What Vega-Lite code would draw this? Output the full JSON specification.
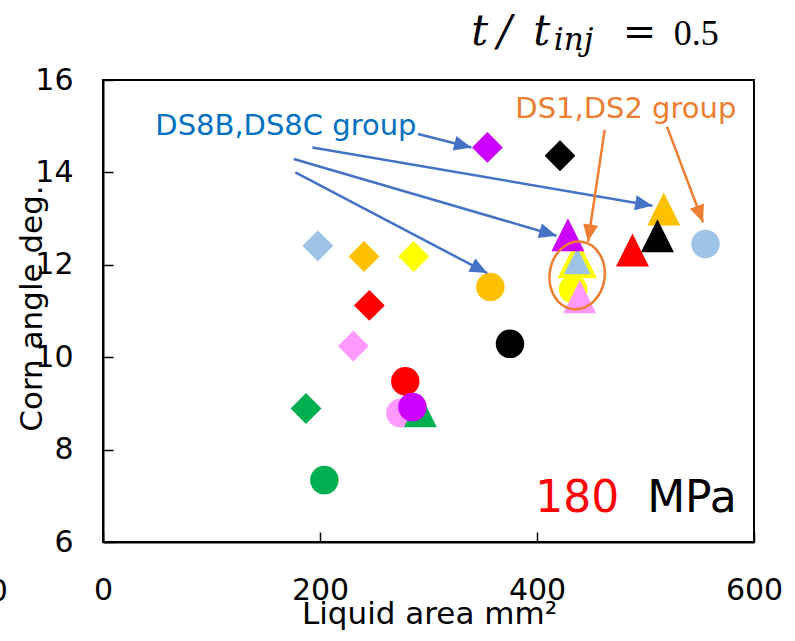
{
  "$schema": "https://vega.github.io/schema/vega-lite/v6.json",
  "width": 651,
  "height": 462,
  "autosize": "none",
  "padding": {"left": 103, "top": 80, "right": 41, "bottom": 99},
  "background": "white",
  "config": {
    "view": {"stroke": "black", "strokeWidth": 2},
    "font": "DejaVu Sans",
    "axis": {"labelFont": "DejaVu Sans", "titleFont": "DejaVu Sans", "grid": false, "domainColor": "black", "domainWidth": 2, "tickColor": "black", "tickWidth": 1.5, "labelColor": "black", "titleColor": "black", "titleFontWeight": "normal", "labelFlush": false, "labelOverlap": false}
  },
  "datasets": {
    "points": [
      {"x": 198.0, "y": 12.41, "series": "lightblue", "marker": "diamond"},
      {"x": 240.6, "y": 12.18, "series": "orange", "marker": "diamond"},
      {"x": 286.4, "y": 12.18, "series": "yellow", "marker": "diamond"},
      {"x": 245.5, "y": 11.12, "series": "red", "marker": "diamond"},
      {"x": 230.7, "y": 10.24, "series": "pink", "marker": "diamond"},
      {"x": 187.1, "y": 8.89, "series": "green", "marker": "diamond"},
      {"x": 354.3, "y": 14.54, "series": "purple", "marker": "diamond"},
      {"x": 421.2, "y": 14.36, "series": "black", "marker": "diamond"},
      {"x": 274.1, "y": 8.79, "series": "pink", "marker": "circle"},
      {"x": 278.6, "y": 9.48, "series": "red", "marker": "circle"},
      {"x": 292.5, "y": 8.84, "series": "green", "marker": "triangle"},
      {"x": 285.2, "y": 8.92, "series": "purple", "marker": "circle"},
      {"x": 204.0, "y": 7.34, "series": "green", "marker": "circle"},
      {"x": 357.0, "y": 11.52, "series": "orange", "marker": "circle"},
      {"x": 375.1, "y": 10.29, "series": "black", "marker": "circle"},
      {"x": 433.3, "y": 11.47, "series": "yellow", "marker": "circle"},
      {"x": 439.4, "y": 11.31, "series": "pink", "marker": "triangle"},
      {"x": 437.1, "y": 12.11, "series": "yellow", "marker": "triangle"},
      {"x": 437.1, "y": 12.11, "series": "lightblue", "marker": "triangle"},
      {"x": 428.5, "y": 12.65, "series": "purple", "marker": "triangle"},
      {"x": 488.0, "y": 12.32, "series": "red", "marker": "triangle"},
      {"x": 516.8, "y": 13.21, "series": "orange", "marker": "triangle"},
      {"x": 511.0, "y": 12.63, "series": "black", "marker": "triangle"},
      {"x": 555.3, "y": 12.45, "series": "lightblue", "marker": "circle"}
    ],
    "blueArrows": [
      {"x": 290.3, "y": 14.83, "x2": 339.5, "y2": 14.54},
      {"x": 193.0, "y": 14.54, "x2": 506.4, "y2": 13.28},
      {"x": 175.8, "y": 14.29, "x2": 417.9, "y2": 12.63},
      {"x": 177.3, "y": 14.0, "x2": 354.1, "y2": 11.82}
    ],
    "orangeArrows": [
      {"x": 462.4, "y": 14.92, "x2": 447.0, "y2": 12.5},
      {"x": 519.8, "y": 14.99, "x2": 553.0, "y2": 12.92}
    ]
  },
  "layer": [
    {
      "data": {"name": "points"},
      "mark": {"type": "point", "filled": true, "opacity": 1, "strokeWidth": 4, "strokeJoin": "miter"},
      "encoding": {
        "x": {"field": "x", "type": "quantitative", "scale": {"domain": [0, 600], "nice": false, "zero": false},
          "axis": {"values": [0, 200, 400, 600], "tickSize": -10, "labelFontSize": 30, "labelBaseline": "alphabetic", "labelPadding": 67, "title": "Liquid area mm²", "titleFontSize": 31, "titleX": 326, "titleY": 81, "titleBaseline": "alphabetic", "titleAnchor": "middle", "titleAlign": "center"}},
        "y": {"field": "y", "type": "quantitative", "scale": {"domain": [6, 16], "nice": false, "zero": false},
          "axis": {"values": [6, 8, 10, 12, 14, 16], "tickSize": -10, "labelFontSize": 30, "labelPadding": 40, "labelBaseline": "middle", "title": "Corn angle deg.", "titleFontSize": 31, "titleX": -62, "titleY": 228, "titleBaseline": "alphabetic", "titleAngle": -90, "titleAlign": "center"}},
        "color": {"field": "series", "type": "nominal", "scale": {"domain": ["lightblue", "orange", "yellow", "red", "pink", "green", "purple", "black"], "range": ["#9DC3E6", "#FFC000", "#FFFF00", "#FF0000", "#FF99FF", "#00B050", "#CC00FF", "#000000"]}, "legend": null},
        "shape": {"field": "marker", "type": "nominal", "scale": {"domain": ["circle", "diamond", "triangle"], "range": ["circle", "diamond", "M-1,1L0,-1L1,1Z"]}, "legend": null},
        "size": {"field": "marker", "type": "ordinal", "scale": {"domain": ["circle", "diamond", "triangle"], "range": [812, 1089, 1122]}, "legend": null},
        "stroke": {"condition": {"test": "datum.series === 'lightblue' && datum.marker === 'triangle'", "value": "#FFFF00"}, "value": "transparent"}
      }
    },
    {
      "data": {"values": [{"x": 437.0, "y": 11.77}]},
      "mark": {"type": "point", "shape": "M-0.81,0A0.81,1 0 1,1 0.81,0A0.81,1 0 1,1 -0.81,0Z", "filled": false, "stroke": "#ED7D31", "strokeWidth": 2.5, "size": 4624, "angle": 8, "opacity": 1},
      "encoding": {
        "x": {"field": "x", "type": "quantitative"},
        "y": {"field": "y", "type": "quantitative"}
      }
    },
    {
      "data": {"name": "blueArrows"},
      "transform": [{"calculate": "atan2((datum.x2 - datum.x) * 1.085, (datum.y2 - datum.y) * 46.2) * 180 / PI", "as": "angle"}],
      "layer": [
        {
          "mark": {"type": "rule", "color": "#4472C4", "strokeWidth": 2.5},
          "encoding": {
            "x": {"field": "x", "type": "quantitative"},
            "y": {"field": "y", "type": "quantitative"},
            "x2": {"field": "x2"},
            "y2": {"field": "y2"}
          }
        },
        {
          "mark": {"type": "point", "shape": "M0,0L0.87,2L-0.87,2Z", "filled": true, "color": "#4472C4", "size": 300, "opacity": 1},
          "encoding": {
            "x": {"field": "x2", "type": "quantitative"},
            "y": {"field": "y2", "type": "quantitative"},
            "angle": {"field": "angle", "type": "quantitative", "scale": null}
          }
        }
      ]
    },
    {
      "data": {"name": "orangeArrows"},
      "transform": [{"calculate": "atan2((datum.x2 - datum.x) * 1.085, (datum.y2 - datum.y) * 46.2) * 180 / PI", "as": "angle"}],
      "layer": [
        {
          "mark": {"type": "rule", "color": "#ED7D31", "strokeWidth": 2.5},
          "encoding": {
            "x": {"field": "x", "type": "quantitative"},
            "y": {"field": "y", "type": "quantitative"},
            "x2": {"field": "x2"},
            "y2": {"field": "y2"}
          }
        },
        {
          "mark": {"type": "point", "shape": "M0,0L0.87,2L-0.87,2Z", "filled": true, "color": "#ED7D31", "size": 300, "opacity": 1},
          "encoding": {
            "x": {"field": "x2", "type": "quantitative"},
            "y": {"field": "y2", "type": "quantitative"},
            "angle": {"field": "angle", "type": "quantitative", "scale": null}
          }
        }
      ]
    },
    {
      "data": {"values": [{"x": 48.2, "y": 14.81, "label": "DS8B,DS8C group"}]},
      "mark": {"type": "text", "align": "left", "baseline": "alphabetic", "fontSize": 29, "color": "#0070C0", "font": "DejaVu Sans"},
      "encoding": {
        "x": {"field": "x", "type": "quantitative"},
        "y": {"field": "y", "type": "quantitative"},
        "text": {"field": "label"}
      }
    },
    {
      "data": {"values": [{"x": 380.0, "y": 15.17, "label": "DS1,DS2 group"}]},
      "mark": {"type": "text", "align": "left", "baseline": "alphabetic", "fontSize": 29, "color": "#ED7D31", "font": "DejaVu Sans"},
      "encoding": {
        "x": {"field": "x", "type": "quantitative"},
        "y": {"field": "y", "type": "quantitative"},
        "text": {"field": "label"}
      }
    },
    {
      "data": {"values": [{"x": 398.5, "y": 6.66, "label": "180"}]},
      "mark": {"type": "text", "align": "left", "baseline": "alphabetic", "fontSize": 44, "color": "#FF0000", "font": "DejaVu Sans"},
      "encoding": {
        "x": {"field": "x", "type": "quantitative"},
        "y": {"field": "y", "type": "quantitative"},
        "text": {"field": "label"}
      }
    },
    {
      "data": {"values": [{"x": 584, "y": 6.66, "label": "MPa"}]},
      "mark": {"type": "text", "align": "right", "baseline": "alphabetic", "fontSize": 44, "color": "#000000", "font": "DejaVu Sans"},
      "encoding": {
        "x": {"field": "x", "type": "quantitative"},
        "y": {"field": "y", "type": "quantitative"},
        "text": {"field": "label"}
      }
    },
    {
      "data": {"values": [{"x": 339.5, "y": 16.76, "label": "t"}, {"x": 363.5, "y": 16.76, "label": "/"}, {"x": 396.5, "y": 16.76, "label": "t"}]},
      "mark": {"type": "text", "align": "left", "baseline": "alphabetic", "fontSize": 42, "fontStyle": "italic", "color": "#000000", "font": "DejaVu Serif"},
      "encoding": {
        "x": {"field": "x", "type": "quantitative"},
        "y": {"field": "y", "type": "quantitative"},
        "text": {"field": "label"}
      }
    },
    {
      "data": {"values": [{"x": 415.5, "y": 16.65, "label": "inj"}]},
      "mark": {"type": "text", "align": "left", "baseline": "alphabetic", "fontSize": 31, "fontStyle": "italic", "color": "#000000", "font": "DejaVu Serif"},
      "encoding": {
        "x": {"field": "x", "type": "quantitative"},
        "y": {"field": "y", "type": "quantitative"},
        "text": {"field": "label"}
      }
    },
    {
      "data": {"values": [{"x": 479.0, "y": 16.76, "label": "="}]},
      "mark": {"type": "text", "align": "left", "baseline": "alphabetic", "fontSize": 40, "color": "#000000", "font": "DejaVu Serif"},
      "encoding": {
        "x": {"field": "x", "type": "quantitative"},
        "y": {"field": "y", "type": "quantitative"},
        "text": {"field": "label"}
      }
    },
    {
      "data": {"values": [{"x": 526.0, "y": 16.76, "label": "0.5"}]},
      "mark": {"type": "text", "align": "left", "baseline": "alphabetic", "fontSize": 36, "color": "#000000", "font": "Liberation Serif"},
      "encoding": {
        "x": {"field": "x", "type": "quantitative"},
        "y": {"field": "y", "type": "quantitative"},
        "text": {"field": "label"}
      }
    },
    {
      "data": {"values": [{"x": -87.8, "y": 4.73, "label": "0"}]},
      "mark": {"type": "text", "align": "right", "baseline": "alphabetic", "fontSize": 30, "color": "#000000", "font": "DejaVu Sans"},
      "encoding": {
        "x": {"field": "x", "type": "quantitative"},
        "y": {"field": "y", "type": "quantitative"},
        "text": {"field": "label"}
      }
    }
  ]
}
